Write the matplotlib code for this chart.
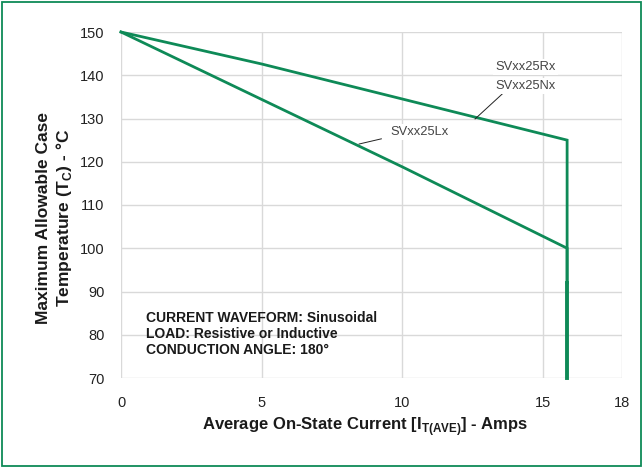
import matplotlib
matplotlib.use("Agg")
import matplotlib.pyplot as plt
from matplotlib.patches import Rectangle

plt.rcParams["font.family"] = ["Liberation Sans", "DejaVu Sans"]
plt.rcParams["mathtext.fontset"] = "custom"
plt.rcParams["mathtext.rm"] = "Liberation Sans:bold"
plt.rcParams["mathtext.bf"] = "Liberation Sans:bold"

# --- data ---
cur_rn = [0, 5, 10, 15.85, 15.85]
temp_rn = [150, 142.6, 134.5, 125, 92]
cur_l = [0, 5, 10, 15.85, 15.85]
temp_l = [150, 134.4, 118.8, 100, 92]
cur_tail = [15.85, 15.85]
temp_tail = [92, 70]

x_ticks = [0, 5, 10, 15, 17.8]
x_labels = ["0", "5", "10", "15", "18"]
y_ticks = [70, 80, 90, 100, 110, 120, 130, 140, 150]

GREEN = "#0e8a57"
GRID = "#d9d9d9"

fig = plt.figure(figsize=(6.44, 4.68), dpi=100)
ax = fig.add_axes([121 / 644, 1 - 378 / 468, 501 / 644, 346 / 468])

ax.set_xlim(0, 17.8)
ax.set_ylim(70, 150)
ax.set_xticks(x_ticks)
ax.set_xticklabels(x_labels)
ax.set_yticks(y_ticks)
ax.grid(True, color=GRID, linewidth=1.0)
ax.set_axisbelow(True)
for s in ax.spines.values():
    s.set_visible(False)
ax.tick_params(length=0, labelsize=10.5, colors="#222222")
ax.tick_params(axis="y", pad=12)
ax.tick_params(axis="x", pad=13)

ax.plot(cur_rn, temp_rn, color=GREEN, lw=2.0, solid_joinstyle="miter", clip_on=False)
ax.plot(cur_l, temp_l, color=GREEN, lw=2.0, solid_joinstyle="miter", clip_on=False)
ax.plot(cur_tail, temp_tail, color=GREEN, lw=2.8, clip_on=False)

# curve labels
lab = dict(ha="center", va="center", fontsize=9.3, color="#444444",
           bbox=dict(facecolor="white", edgecolor="none", pad=1.5))
ax.text(14.37, 141.9, "SVxx25Rx", **lab)
ax.text(14.37, 137.5, "SVxx25Nx", **lab)
ax.plot([13.55, 12.58], [135.7, 129.9], color="#222222", lw=0.7)

ax.text(10.6, 126.9, "SVxx25Lx", **lab)
ax.plot([9.25, 8.46], [125.3, 124.1], color="#222222", lw=0.7)

# conditions note
note = ["CURRENT WAVEFORM: Sinusoidal",
        "LOAD: Resistive or Inductive",
        "CONDUCTION ANGLE: 180°"]
for i, t in enumerate(note):
    ax.text(0.9, 83.9 - 3.7 * i, t, ha="left", va="center", fontsize=10,
            fontweight="bold", color="#1a1a1a")

fig.text(55 / 644, 1 - 218 / 468,
         "Maximum Allowable Case\nTemperature (T$_\\mathbf{C}$) - °C",
         rotation=90, ha="center", va="center", fontsize=12.5,
         fontweight="bold", linespacing=1.15, color="#1a1a1a")
fig.text(365 / 644, 1 - 427 / 468,
         "Average On-State Current [I$_\\mathbf{T(AVE)}$] - Amps",
         ha="center", va="center", fontsize=12, fontweight="bold",
         color="#1a1a1a")

fig.patches.append(Rectangle((0.003, 0.005), 0.992, 0.99, transform=fig.transFigure,
                             fill=False, edgecolor=GREEN, linewidth=1.3))

fig.savefig("out.png", dpi=100)
